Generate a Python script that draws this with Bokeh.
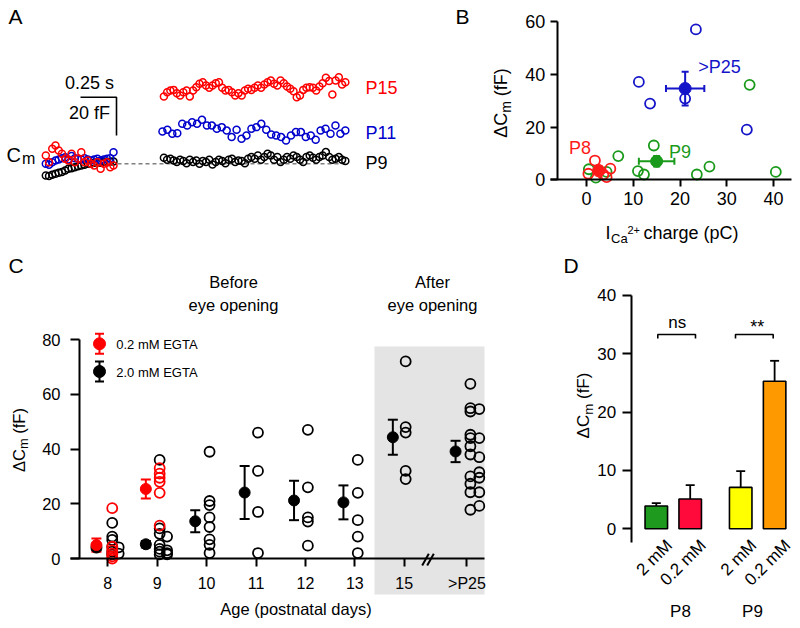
import math
import numpy as np
from bokeh.plotting import figure
from bokeh.models import Range1d, FixedTicker, ColumnDataSource, Whisker, TeeHead
from bokeh.layouts import column, row
from bokeh.embed import file_html
from bokeh.resources import INLINE
from bokeh.core.properties import value

FONT = "Liberation Sans"

# ======================= DATA =======================
# Panel A : membrane capacitance traces (fF, relative to baseline)
A_pre_P15 = [4.3, 0.8, 7.8, 9.5, 6.9, 5.2, 2.6, 1.7, 5.2, 0.8, 2.6, 6.0, 0.8, 1.7, 0.0, -0.9, 0.8, -2.6, 0.0, 0.8, -1.8, -0.9]
A_pre_P11 = [0.0, -0.5, 0.8, 1.7, 2.2, 2.9, 3.4, 2.2, 4.0, 2.9, 2.6, 2.2, 2.9, 2.2, 1.7, 2.2, 2.6, 1.7, 2.2, 2.6, 2.9, 6.0]
A_pre_P9 = [-6.1, -6.4, -5.7, -5.2, -4.7, -4.3, -3.5, -2.6, -2.3, -1.8, -1.3, -0.9, -0.5, 0.0, 0.0, 0.5, 0.8, 0.5, 1.2, 0.8, 1.2, 1.2]
A_post_P15 = [35.1, 37.3, 38.2, 38.5, 36.8, 35.6, 37.3, 38.2, 35.1, 38.2, 39.9, 41.7, 42.5, 40.8, 39.6, 40.8, 42.0, 42.5, 39.6,
              38.2, 38.5, 37.3, 35.6, 36.8, 35.6, 38.2, 39.1, 38.5, 39.6, 40.8, 39.6, 41.3, 42.5, 43.4, 41.7, 40.8, 43.4, 42.0,
              40.3, 39.1, 37.8, 34.7, 35.6, 38.5, 39.6, 39.9, 39.6, 38.2, 40.3, 42.0, 44.8, 43.1, 36.1, 43.4, 45.1, 41.3, 42.5]
A_post_P11 = [16.8, 17.7, 15.6, 15.9, 20.8, 19.9, 21.7, 20.8, 22.9, 19.9, 19.9, 18.2, 19.1, 17.3, 13.9, 17.7, 13.0, 14.7, 18.2,
              19.1, 20.8, 17.7, 15.3, 14.7, 13.9, 12.1, 14.7, 16.5, 16.5, 13.9, 14.7, 12.5, 17.3, 18.2, 15.6, 19.9, 15.6, 17.3]
A_post_P9 = [3.1, 2.1, 2.6, 1.7, 0.9, 2.1, 1.4, 0.3, 2.1, 0.9, 1.7, 0.0, 1.4, 0.9, 2.1, -0.3, 0.9, 2.1, 1.4, 0.3, 2.1, 2.6, 0.9,
             1.7, 1.4, 0.3, 2.6, 3.5, 2.6, 4.3, 2.1, 3.5, 5.2, 4.3, 2.1, 3.5, 0.9, 2.1, 3.5, 2.6, 4.3, 3.5, 2.1, 0.9, 3.5, 4.3,
             3.1, 2.1, 3.5, 4.3, 6.1, 3.5, 2.1, 2.6, 3.5, 2.1, 1.4]
A_pre_window = (-0.47, 0.0)     # s, before the depolarisation
A_post_window = (0.35, 1.61)    # s, after the depolarisation
A_scale_time = 0.25             # s
A_scale_cap = 20                # fF

# Panel B : dCm vs ICa charge
B_P8_q = [1.8, 5.1, 0.4, 4.3, 2.6, 3.6]
B_P8_dc = [7.3, 4.2, 2.3, 1.0, 3.8, 2.0]
B_P9_q = [34.9, 14.4, 6.8, 11.0, 12.3, 23.6, 26.3, 40.5, 0.5, 2.0, 4.3]
B_P9_dc = [36.0, 13.0, 9.0, 3.3, 2.0, 2.0, 5.0, 3.0, 4.0, 0.8, 3.0]
B_P25_q = [11.2, 23.4, 13.6, 21.1, 34.3]
B_P25_dc = [37.1, 57.0, 28.9, 30.8, 19.0]
B_mean_q = [2.6, 15.0, 21.1]
B_mean_q_err = [1.0, 3.8, 4.1]
B_mean_dc = [3.4, 7.0, 34.6]
B_mean_dc_err = [1.0, 2.0, 6.4]
B_groups = ["P8", "P9", ">P25"]

# Panel C : dCm vs age
C_ages = ["8", "9", "10", "11", "12", "13", "15", ">P25"]
C_mean_2mM = [4.0, 5.2, 13.6, 24.1, 21.2, 20.5, 44.3, 39.1]
C_sem_2mM = [1.0, 1.2, 4.0, 9.7, 7.2, 6.2, 6.4, 3.9]
C_mean_02mM = [4.9, 25.4]          # ages 8 and 9
C_sem_02mM = [2.4, 3.5]
# individual cells: age index -> [(jitter in slot units, values)]
C_cells_2mM = {
    0: [(0.09, [13.0, 8.0, 6.8, 4.3, 2.5, 1.5]), (0.22, [4.1, 1.8])],
    1: [(0.05, [36.0, 11.0, 9.0, 5.0, 3.5, 2.5, 1.5]), (0.20, [8.0, 3.0, 2.0, 1.5])],
    2: [(0.06, [39.0, 21.0, 19.5, 15.0, 11.5, 7.0, 5.0, 2.0])],
    3: [(0.04, [46.0, 32.0, 17.0, 2.0])],
    4: [(0.05, [47.0, 26.0, 15.0, 13.5, 4.7])],
    5: [(0.06, [36.0, 24.0, 14.0, 8.0, 2.0])],
    6: [(0.03, [72.0, 48.0, 46.0, 32.0, 29.0])],
    7: [(0.07, [63.8, 54.9, 53.7, 45.2, 44.0, 41.0, 38.0, 30.0, 27.3, 24.2, 17.8]),
        (0.25, [54.6, 44.0, 37.0, 31.5, 29.5, 24.2, 19.2])],
}
C_cells_02mM = {
    0: [(0.09, [18.4, 4.3, 3.0, 1.8, 0.8, 0.0])],
    1: [(0.05, [33.0, 31.0, 29.5, 28.0, 24.0, 12.0])],
}

# Panel D : bars
D_labels = ["2 mM", "0.2 mM", "2 mM", "0.2 mM"]
D_groups = ["P8", "P9"]
D_mean = [3.9, 5.1, 7.1, 25.3]
D_sem = [0.5, 2.4, 2.8, 3.5]
D_colors = ["#1e9b1e", "#ff0a3a", "#ffff00", "#ff9900"]
D_sig = ["ns", "**"]

# ======================= HELPERS =======================
MID = 0.35  # distance (em) from alphabetic baseline to the middle of the text


def mapper(px0, v0, ppu, flip=False):
    if flip:
        return lambda P: v0 + (px0 - P) / ppu
    return lambda P: v0 + (P - px0) / ppu


def make_fig(box, fx, fy):
    X0, Y0, X1, Y1 = box
    p = figure(width=int(X1 - X0), height=int(Y1 - Y0),
               x_range=Range1d(fx(X0), fx(X1)), y_range=Range1d(fy(Y1), fy(Y0)),
               output_backend="svg", toolbar_location=None, min_border=0, title=None)
    p.outline_line_color = None
    p.grid.visible = False
    p.background_fill_color = "white"
    p.border_fill_color = "white"
    return p


def put(p, fx, fy, X, Y, s, size, color="black", align="left", mid=False):
    """Y is the alphabetic baseline (pixels) unless mid=True (visual middle)."""
    Ym = Y if mid else Y - MID * size
    p.text(x=[fx(X)], y=[fy(Ym)], text=[s], text_font=value(FONT), text_font_size=f"{size}px",
           text_color=color, text_align=align, text_baseline="middle")


def put_rot(p, fx, fy, Xb, Y, s, size):
    """Text rotated 90 degrees, baseline at screen x = Xb, starting at Y and reading upwards."""
    p.text(x=[fx(Xb - MID * size)], y=[fy(Y)], text=[s], text_font=value(FONT), text_font_size=f"{size}px",
           text_color="black", text_align="left", text_baseline="middle", angle=math.pi / 2)


def style_axis(ax, ticks, size, tick_out, standoff, fixed, bounds):
    ax.ticker = FixedTicker(ticks=ticks)
    ax.fixed_location = fixed
    ax.bounds = bounds
    ax.axis_line_width = 2
    ax.axis_line_color = "black"
    ax.major_tick_line_width = 2
    ax.major_tick_line_color = "black"
    ax.major_tick_out = tick_out
    ax.major_tick_in = 0
    ax.minor_tick_out = 0
    ax.minor_tick_in = 0
    ax.major_label_text_font = FONT
    ax.major_label_text_font_size = f"{size}px"
    ax.major_label_text_color = "black"
    ax.major_label_standoff = standoff


def whiskers(p, base, center, err, color, dim="height", cap=10, lw=2, lower=True):
    lo = [c - e for c, e in zip(center, err)] if lower else list(center)
    up = [c + e for c, e in zip(center, err)]
    src = ColumnDataSource(dict(base=base, lower=lo, upper=up))
    w = Whisker(source=src, base="base", lower="lower", upper="upper", dimension=dim,
                line_color=color, line_width=lw,
                upper_head=TeeHead(size=cap, line_color=color, line_width=lw),
                lower_head=TeeHead(size=cap, line_color=color, line_width=lw) if lower else None)
    p.add_layout(w)


def ylabel(p, fx, fy, Xb, Ymid, size):
    ms = size * 0.78
    w1, w2, w3 = 1.389 * size, 0.833 * ms, (1.833 - 0.278) * size
    gap = 0.278 * size
    Y = Ymid + (w1 + w2 + gap + w3) / 2
    put_rot(p, fx, fy, Xb, Y, "\u0394C", size)
    put_rot(p, fx, fy, Xb + 0.2 * size, Y - w1, "m", ms)
    put_rot(p, fx, fy, Xb, Y - w1 - w2 - gap, "(fF)", size)


def open_pts(p, x, y, color, size=10, lw=1.8):
    p.scatter(x=x, y=y, marker="circle", size=size, fill_color=None, line_color=color, line_width=lw)


# ======================= PANEL A =======================
fxA = mapper(113, 0.0, 144.0)
fyA = mapper(163.3, 0.0, 1.92, flip=True)
pA = make_fig((0, 0, 400, 245), fxA, fyA)
pA.axis.visible = False

t_pre = np.linspace(A_pre_window[0], A_pre_window[1], len(A_pre_P9))
t_post = np.linspace(A_post_window[0], A_post_window[1], len(A_post_P9))
t_post11 = np.linspace(A_post_window[0] - 0.01, A_post_window[1], len(A_post_P11))
pA.line(x=[fxA(117), A_post_window[1]], y=[0, 0], line_color="#808080", line_width=1.5, line_dash="4 3")
for vals, t, col in [(A_pre_P9, t_pre, "black"), (A_pre_P11, t_pre, "#0000cc"), (A_pre_P15, t_pre, "#ff0000"),
                     (A_post_P9, t_post, "black"), (A_post_P11, t_post11, "#0000cc"), (A_post_P15, t_post, "#ff0000")]:
    open_pts(pA, t, vals, col, size=7, lw=1.5)

# scale bar
sb_t, sb_c = fxA(116), fyA(96.7)
pA.line(x=[sb_t - A_scale_time, sb_t, sb_t], y=[sb_c, sb_c, sb_c - A_scale_cap], line_color="black", line_width=1.6)
put(pA, fxA, fyA, 89, 82.7, "0.25 s", 18, align="center", mid=True)
put(pA, fxA, fyA, 89, 112.7, "20 fF", 18, align="center", mid=True)
put(pA, fxA, fyA, 6, 161.7, "C", 20)
put(pA, fxA, fyA, 21.5, 163.3, "m", 16)
put(pA, fxA, fyA, 365, 93.3, "P15", 18, color="#ff0000")
put(pA, fxA, fyA, 365, 138.3, "P11", 18, color="#0000cc")
put(pA, fxA, fyA, 365, 168.3, "P9", 18, color="black")
put(pA, fxA, fyA, 8, 23.3, "A", 21)

# ======================= PANEL B =======================
fxB = mapper(586, 0.0, 4.675)
fyB = mapper(179.3, 0.0, 2.638, flip=True)
pB = make_fig((400, 0, 800, 245), fxB, fyB)
style_axis(pB.xaxis[0], [0, 10, 20, 30, 40], 18, 7, 5, 0, (fxB(550), fxB(790.7)))
style_axis(pB.yaxis[0], [0, 20, 40, 60], 18, 7, 5, fxB(556.7), (0, 60))

B_col = ["#ff1a1a", "#1a9a1a", "#1414c8"]
open_pts(pB, B_P9_q, B_P9_dc, B_col[1], size=10)
open_pts(pB, B_P25_q, B_P25_dc, B_col[2], size=10)
open_pts(pB, B_P8_q, B_P8_dc, B_col[0], size=10)
for i in range(3):
    whiskers(pB, [B_mean_q[i]], [B_mean_dc[i]], [B_mean_dc_err[i]], B_col[i], dim="height", cap=7, lw=2)
    whiskers(pB, [B_mean_dc[i]], [B_mean_q[i]], [B_mean_q_err[i]], B_col[i], dim="width", cap=7, lw=2)
pB.scatter(x=B_mean_q, y=B_mean_dc, marker="circle", size=12, fill_color=B_col, line_color=B_col)
put(pB, fxB, fyB, 579.5, 147.5, B_groups[0], 18, color=B_col[0], align="center", mid=True)
put(pB, fxB, fyB, 679.5, 151, B_groups[1], 18, color=B_col[1], align="center", mid=True)
put(pB, fxB, fyB, 719, 66.7, B_groups[2], 18, color=B_col[2], align="center", mid=True)
ylabel(pB, fxB, fyB, 507, 102.5, 18)
put(pB, fxB, fyB, 605, 239, "I", 18)
put(pB, fxB, fyB, 610.5, 242.5, "Ca", 13)
put(pB, fxB, fyB, 627, 233, "2+", 11)
put(pB, fxB, fyB, 643, 239, "charge (pC)", 18)
put(pB, fxB, fyB, 455, 23.3, "B", 21)

# ======================= PANEL C =======================
fxC = mapper(107.3, 0.0, 49.4)
fyC = mapper(558, 0.0, 2.7375, flip=True)
pC = make_fig((0, 245, 556, 628), fxC, fyC)
C_pos = [0, 1, 2, 3, 4, 5, 6, 7.27]
style_axis(pC.xaxis[0], C_pos, 16, 8, 8, 0, (fxC(70), fxC(484)))
pC.xaxis[0].major_label_overrides = {k: v for k, v in zip(C_pos, C_ages)}
style_axis(pC.yaxis[0], [0, 20, 40, 60, 80], 16.5, 9, 10, fxC(79), (0, 80))

# shaded "after eye opening" region
pC.quad(left=[fxC(374)], right=[fxC(484)], bottom=[fyC(594)], top=[fyC(346)],
        fill_color="#e4e4e4", line_color=None, level="image")

# axis break
for dx in (0, 5):
    pC.line(x=[fxC(421.7 + dx), fxC(428.3 + dx)], y=[fyC(565), fyC(553.3)], line_color="black", line_width=2)

for cells, col in [(C_cells_2mM, "black"), (C_cells_02mM, "#ff0000")]:
    for idx, groups in cells.items():
        for jit, vals in groups:
            open_pts(pC, [C_pos[idx] + jit] * len(vals), vals, col, size=10, lw=1.8)

mx = [c - 0.23 for c in C_pos]
whiskers(pC, mx, C_mean_2mM, C_sem_2mM, "black", cap=10, lw=2)
pC.scatter(x=mx, y=C_mean_2mM, marker="circle", size=11, fill_color="black", line_color="black")
whiskers(pC, mx[:2], C_mean_02mM, C_sem_02mM, "#ff0000", cap=10, lw=2)
pC.scatter(x=mx[:2], y=C_mean_02mM, marker="circle", size=11, fill_color="#ff0000", line_color="#ff0000")

# legend
for Y, col, lab, base in [(343.3, "#ff0000", "0.2 mM EGTA", 348.3), (371, "black", "2.0 mM EGTA", 376.7)]:
    whiskers(pC, [fxC(99)], [fyC(Y)], [10 / 2.7375], col, cap=9, lw=2)
    pC.scatter(x=[fxC(99)], y=[fyC(Y)], marker="circle", size=12, fill_color=col, line_color=col)
    put(pC, fxC, fyC, 115.7, base, lab, 13)

put(pC, fxC, fyC, 233, 287.5, "Before", 16.5, align="center")
put(pC, fxC, fyC, 233, 310, "eye opening", 16.5, align="center")
put(pC, fxC, fyC, 432, 287.5, "After", 16.5, align="center")
put(pC, fxC, fyC, 432, 310, "eye opening", 16.5, align="center")
put(pC, fxC, fyC, 295.5, 614.5, "Age (postnatal days)", 16.5, align="center")
ylabel(pC, fxC, fyC, 24, 439.5, 16.5)
put(pC, fxC, fyC, 8, 272, "C", 21)

# ======================= PANEL D =======================
fxD = mapper(655.8, 0.0, 33.9)
fyD = mapper(528.3, 0.0, 5.833, flip=True)
pD = make_fig((556, 245, 800, 628), fxD, fyD)
pD.xaxis.visible = False
style_axis(pD.yaxis[0], [0, 10, 20, 30, 40], 17, 9, 6, fxD(630.7), (fyD(541.7), 40))

D_x = [0.0, 1.0, 2.49, 3.49]
whiskers(pD, D_x, D_mean, D_sem, "black", cap=9, lw=1.8, lower=False)
pD.vbar(x=D_x, top=D_mean, bottom=0, width=0.664, fill_color=D_colors, line_color="black", line_width=1.6)
for x, lab in zip(D_x, D_labels):
    pD.text(x=[x + 13 / 33.9], y=[fyD(542)], text=[lab], text_font=value(FONT), text_font_size="17px",
            text_align="right", text_baseline="middle", angle=math.pi / 4)
put(pD, fxD, fyD, 680, 616.7, D_groups[0], 17, align="center")
put(pD, fxD, fyD, 752, 616.7, D_groups[1], 17, align="center")

for (xa, xb), sig, sx, sy, fs in [((657.3, 695.0), D_sig[0], 676.7, 328.3, 17), ((735.0, 772.7), D_sig[1], 756.7, 333, 18)]:
    pD.line(x=[fxD(xa), fxD(xa), fxD(xb), fxD(xb)], y=[fyD(338), fyD(334), fyD(334), fyD(338)],
            line_color="black", line_width=1.6)
    put(pD, fxD, fyD, sx, sy, sig, fs, align="center")
ylabel(pD, fxD, fyD, 589, 405, 17)
put(pD, fxD, fyD, 563, 272, "D", 21)

layout = column(row(pA, pB), row(pC, pD))
open("out.html", "w").write(file_html(layout, INLINE))
